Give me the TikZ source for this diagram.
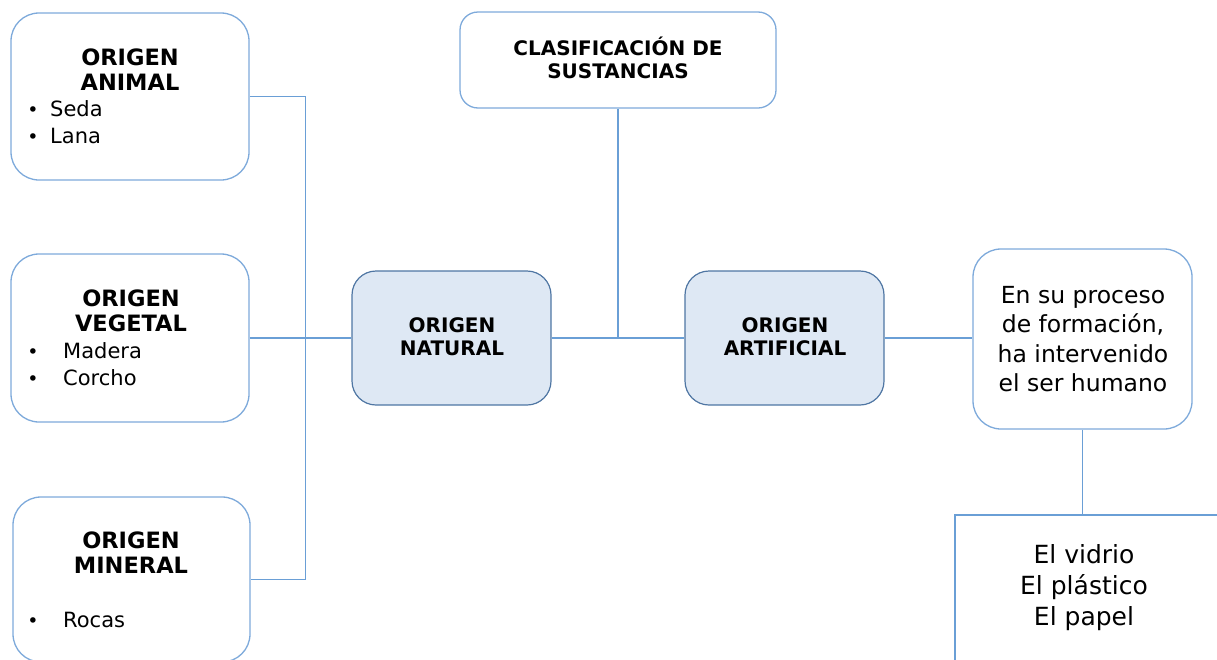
\documentclass[tikz,border=0pt]{standalone}
\usepackage{fontspec}
\setmainfont{DejaVu Sans}
\definecolor{boxblue}{HTML}{7EAADB}
\definecolor{lineblue}{HTML}{6A9FD6}
\definecolor{darkborder}{HTML}{4F76A3}
\definecolor{lightfill}{HTML}{DEE8F4}
\tikzset{
  x=1pt, y=-1pt,
  box/.style={draw=boxblue, line width=1.3pt, rounded corners=28pt, fill=white, inner sep=0pt},
  keybox/.style={draw=darkborder, line width=1.2pt, rounded corners=24pt, fill=lightfill, inner sep=0pt},
  sqbox/.style={draw=lineblue, line width=1.3pt, fill=white, inner sep=0pt},
  conn/.style={draw=lineblue, line width=1.3pt},
  hbig/.style={font=\fontsize{22.5}{25}\selectfont\bfseries, align=center, inner sep=0pt},
  hmid/.style={font=\fontsize{20}{23}\selectfont\bfseries, align=center, inner sep=0pt},
  item/.style={font=\fontsize{21}{26}\selectfont, anchor=base west, inner sep=0pt},
  bul/.style={font=\fontsize{19}{26}\selectfont, anchor=base, inner sep=0pt},
  body/.style={font=\fontsize{23.5}{29.5}\selectfont, align=center, inner sep=0pt},
  bodyb/.style={font=\fontsize{25}{31}\selectfont, align=center, inner sep=0pt},
}
\begin{document}
\begin{tikzpicture}
\useasboundingbox (0,0) rectangle (1217,659);
\clip (0,0) rectangle (1217,659);
% boxes
\node[box, minimum width=238pt, minimum height=167pt] (animal) at (130,96.5) {};
\node[box, minimum width=238pt, minimum height=168pt] (vegetal) at (130,338) {};
\node[box, minimum width=237pt, minimum height=165pt] (mineral) at (131.5,579.5) {};
\node[box, minimum width=316pt, minimum height=96pt, rounded corners=18pt] (clas) at (618,60) {};
\node[keybox, minimum width=199pt, minimum height=134pt] (natural) at (451.5,338) {};
\node[keybox, minimum width=199pt, minimum height=134pt] (artificial) at (784.5,338) {};
\node[box, minimum width=219pt, minimum height=180pt] (ensu) at (1082.5,339) {};
\node[sqbox, minimum width=280pt, minimum height=180pt] (vidrio) at (1095,605) {};
% connectors
\draw[conn] (animal.east) -- ++(56,0) |- (mineral.east);
\draw[conn] (vegetal.east) -- (natural.west);
\draw[conn] (natural.east) -- (artificial.west);
\draw[conn] (clas.south) -- (clas.south |- natural.east);
\draw[conn] (artificial.east) -- (artificial.east -| ensu.west);
\draw[conn] (ensu.south) -- (ensu.south |- vidrio.north);
% texts
\node[hbig] (tanimal) at (130,70) {ORIGEN\\ANIMAL};
\node[bul] (b1) at (33,116) {•};
\node[item] (t1) at (50,116) {Seda};
\node[bul] (b2) at (33,143) {•};
\node[item] (t2) at (50,143) {Lana};
\node[hbig] (tvegetal) at (131,311) {ORIGEN\\VEGETAL};
\node[bul] (b3) at (33,358) {•};
\node[item] (t3) at (63,358) {Madera};
\node[bul] (b4) at (33,385) {•};
\node[item] (t4) at (63,385) {Corcho};
\node[hbig] (tmineral) at (131,553) {ORIGEN\\MINERAL};
\node[bul] (b5) at (33,627) {•};
\node[item] (t5) at (63,627) {Rocas};
\node[hmid] (tclas) at (618,58) {CLASIFICACIÓN DE\\SUSTANCIAS};
\node[hmid] (tnat) at (452,337) {ORIGEN\\NATURAL};
\node[hmid] (tart) at (785,337) {ORIGEN\\ARTIFICIAL};
\node[body] (tensu) at (1083,339) {En su proceso\\de formación,\\ha intervenido\\el ser humano};
\node[bodyb] (tvid) at (1084,588) {El vidrio\\El plástico\\El papel};
\end{tikzpicture}
\end{document}
